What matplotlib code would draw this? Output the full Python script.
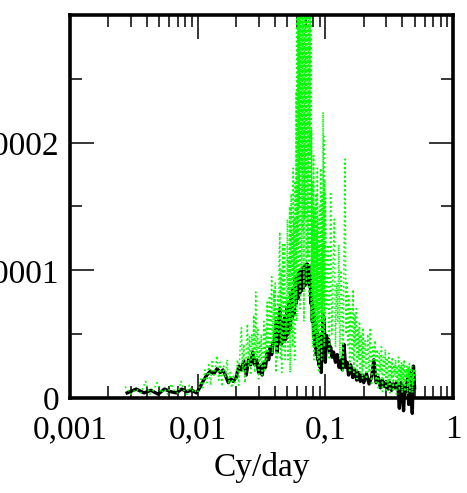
import matplotlib

matplotlib.use("Agg")

import matplotlib.pyplot as plt
from matplotlib.ticker import FixedLocator, LogLocator, MultipleLocator, NullFormatter

# power values are given in units of 1e-5
SCALE = 1e-5

# raw spectrum (green dotted)
raw_freq = [
    0.0027, 0.0030, 0.0033, 0.0036, 0.0039, 0.0042, 0.0045, 0.0048, 0.0052, 0.0055, 0.0058,
    0.0062, 0.0066, 0.0070, 0.0074, 0.0078, 0.0082, 0.0086, 0.0090, 0.0094, 0.0098,
    0.0102, 0.0106, 0.0110, 0.0114, 0.0118, 0.0122, 0.0126, 0.0130, 0.0134, 0.0138, 0.0142,
    0.0146, 0.0150, 0.0155, 0.0160, 0.0165, 0.0170, 0.0175, 0.0180, 0.0185, 0.0190, 0.0195,
    0.0200, 0.0205, 0.0210, 0.0215, 0.0220, 0.0225, 0.0230, 0.0235, 0.0240, 0.0245,
    0.0250, 0.0255, 0.0260, 0.0265, 0.0270, 0.0275, 0.0280, 0.0285, 0.0290, 0.0295,
    0.0300, 0.0305, 0.0310, 0.0315, 0.0320, 0.0325, 0.0330, 0.0335, 0.0340, 0.0345,
    0.0350, 0.0355, 0.0360, 0.0365, 0.0370, 0.0375, 0.0380, 0.0385, 0.0390, 0.0395,
    0.0400, 0.0405, 0.0410, 0.0415, 0.0420, 0.0425, 0.0430, 0.0435, 0.0440, 0.0445,
    0.0450, 0.0455, 0.0460, 0.0465, 0.0470, 0.0475, 0.0480, 0.0485, 0.0490, 0.0495,
    0.0500, 0.0505, 0.0510, 0.0515, 0.0520, 0.0525, 0.0530, 0.0535, 0.0540, 0.0545,
    0.0550, 0.0555, 0.0560, 0.0565, 0.0570, 0.0575, 0.0580, 0.0585, 0.0590, 0.0595,
    0.0600, 0.0605, 0.0610, 0.0615, 0.0620, 0.0625, 0.0630, 0.0635, 0.0640, 0.0645,
    0.0650, 0.0655, 0.0660, 0.0665, 0.0670, 0.0675, 0.0680, 0.0685, 0.0690, 0.0695,
    0.0700, 0.0705, 0.0710, 0.0715, 0.0720, 0.0725, 0.0730, 0.0735, 0.0740, 0.0745,
    0.0750, 0.0755, 0.0760, 0.0765, 0.0770, 0.0775, 0.0780, 0.0785, 0.0790, 0.0795,
    0.0800, 0.0805, 0.0810, 0.0815, 0.0820, 0.0825, 0.0830, 0.0835, 0.0840, 0.0845,
    0.0850, 0.0855, 0.0860, 0.0865, 0.0870, 0.0875, 0.0880, 0.0885, 0.0890, 0.0895,
    0.0900, 0.0905, 0.0910, 0.0915, 0.0920, 0.0925, 0.0930, 0.0935, 0.0940, 0.0945,
    0.0950, 0.0955, 0.0960, 0.0965, 0.0970, 0.0975, 0.0980, 0.0985, 0.0990, 0.0995,
    0.1000, 0.1025, 0.1050, 0.1075, 0.1100, 0.1125, 0.1150, 0.1175, 0.1200, 0.1225,
    0.1250, 0.1275, 0.1300, 0.1325, 0.1350, 0.1375, 0.1400, 0.1425, 0.1450, 0.1475,
    0.1500, 0.1525, 0.1550, 0.1575, 0.1600, 0.1625, 0.1650, 0.1675, 0.1700, 0.1725,
    0.1750, 0.1775, 0.1800, 0.1825, 0.1850, 0.1875, 0.1900, 0.1925, 0.1950, 0.1975,
    0.200, 0.205, 0.210, 0.215, 0.220, 0.225, 0.230, 0.235, 0.240, 0.245,
    0.250, 0.255, 0.260, 0.265, 0.270, 0.275, 0.280, 0.285, 0.290, 0.295,
    0.300, 0.305, 0.310, 0.315, 0.320, 0.325, 0.330, 0.335, 0.340, 0.345,
    0.350, 0.355, 0.360, 0.365, 0.370, 0.375, 0.380, 0.385, 0.390, 0.395,
    0.400, 0.405, 0.410, 0.415, 0.420, 0.425, 0.430, 0.435, 0.440, 0.445,
    0.450, 0.455, 0.460, 0.465, 0.470, 0.475, 0.480, 0.485, 0.490, 0.495,
    0.500,
]
raw_power = [
    0.9, 0.3, 0.7, 0.4, 1.3, 0.3, 0.6, 1.2, 0.4, 0.7, 0.3,
    1.1, 0.5, 0.4, 1.3, 0.6, 0.3, 1.0, 0.5, 0.7, 0.4,
    0.6, 1.5, 0.8, 2.2, 1.2, 2.6, 1.0, 3.0, 1.8, 2.4, 3.3,
    1.4, 2.8, 0.9, 2.5, 1.6, 3.0, 1.1, 2.0, 0.8, 1.8, 1.2,
    1.5, 3.0, 1.0, 4.0, 5.5, 2.0, 4.2, 1.2, 3.6, 5.8,
    2.5, 4.8, 1.8, 5.0, 3.0, 6.5, 2.0, 8.3, 3.0, 5.5,
    1.5, 4.5, 2.5, 5.0, 1.8, 3.0, 6.0, 2.2, 5.5, 3.0,
    7.5, 3.5, 6.0, 8.0, 4.0, 7.0, 9.5, 3.5, 6.0, 8.5,
    4, 9, 2, 7, 3, 8, 5, 11, 13, 3,
    10, 2, 6, 12, 4, 9, 12, 3, 8, 5,
    9, 14, 3, 11, 6, 15, 2, 10, 16, 5,
    13, 4, 18, 7, 14, 3, 17, 8, 24, 6,
    30, 12, 40, 9, 35, 15, 40, 7, 31, 18,
    38, 10, 26, 40, 13, 34, 6, 29, 40, 14,
    22, 36, 9, 40, 17, 31, 11, 27, 40, 8,
    35, 19, 40, 12, 33, 6, 21, 10, 17, 4,
    14, 8, 19, 3, 12, 15, 5, 11, 7, 16,
    4, 13, 9, 18, 3, 10, 14, 6, 12, 2,
    15, 7, 11, 4, 18, 9, 13, 3, 16, 6,
    12, 5, 22.4, 8, 14, 20.5, 4, 11, 17, 6,
    16, 7, 12, 3, 16, 5, 10, 14, 4, 9,
    6, 12, 3, 10, 8, 2, 11, 18.7, 5, 9,
    4, 8, 2, 7, 6, 3, 8.5, 2, 6.5, 4,
    7, 1.5, 5.5, 3, 6, 2, 5, 4.5, 1.5, 5.5,
    2.5, 4.5, 1.5, 5, 2, 5.5, 1, 4, 3, 4.5,
    1.2, 3.8, 0.8, 3.5, 2, 4, 0.5, 3.2, 1.8, 3.8,
    0.6, 3, 1, 3.5, 0.4, 2.8, 1.5, 3.2, 0.5, 2.6,
    1.8, 3, 0.3, 2.5, 1, 3.2, 0.6, 2.4, 1.4, 2.8,
    0.4, 2.6, 1.2, 3, 0.5, 2.2, 1.6, 2.5, 0.3, 2.4,
    0.9, 2.7, 0.5, 2.2, 1.3, 2.5, 0.4, 2.0, 1.0, 2.3,
    1.2,
]

# smoothed spectrum (black)
smooth_freq = [
    0.0028, 0.0033, 0.0038, 0.0043, 0.0049, 0.0055, 0.0061, 0.0068, 0.0075, 0.0082, 0.0090, 0.0098,
    0.0105, 0.0110, 0.0118, 0.0126, 0.0134, 0.0142, 0.0150, 0.0158, 0.0166, 0.0174, 0.0182, 0.0190,
    0.020, 0.021, 0.022, 0.023, 0.024, 0.025, 0.026, 0.027, 0.028, 0.029,
    0.030, 0.031, 0.032, 0.033, 0.034, 0.035, 0.036, 0.037, 0.038, 0.039,
    0.040, 0.041, 0.042, 0.043, 0.044, 0.045, 0.046, 0.047, 0.048, 0.049,
    0.050, 0.051, 0.052, 0.053, 0.054, 0.055, 0.056, 0.057, 0.058, 0.059,
    0.060, 0.061, 0.062, 0.063, 0.064, 0.065, 0.066, 0.067, 0.068, 0.069,
    0.070, 0.071, 0.072, 0.073, 0.074, 0.075, 0.076, 0.077, 0.078, 0.079,
    0.080, 0.081, 0.082, 0.083, 0.084, 0.085, 0.086, 0.087, 0.088, 0.089,
    0.090, 0.091, 0.092, 0.093, 0.094, 0.095, 0.096, 0.097, 0.098, 0.099,
    0.100, 0.102, 0.104, 0.106, 0.108, 0.110, 0.113, 0.116, 0.120, 0.124,
    0.128, 0.132, 0.136, 0.140, 0.144, 0.148, 0.152, 0.158, 0.164, 0.170,
    0.176, 0.182, 0.188, 0.194, 0.200, 0.210, 0.220, 0.230, 0.240, 0.250,
    0.260, 0.270, 0.280, 0.290, 0.300, 0.310, 0.320, 0.330, 0.340, 0.350,
    0.360, 0.370, 0.380, 0.390, 0.400, 0.410, 0.420, 0.430, 0.440, 0.450,
    0.460, 0.470, 0.480, 0.490, 0.500,
]
smooth_power = [
    0.4, 0.7, 0.4, 0.6, 0.3, 0.7, 0.5, 0.4, 0.7, 0.5, 0.6, 0.4,
    0.9, 1.3, 1.8, 2.1, 1.9, 2.3, 2.0, 2.2, 1.7, 1.2, 1.5, 1.3,
    1.6, 2.5, 2.2, 2.9, 1.8, 3.0, 2.6, 3.6, 2.6, 3.0,
    2.0, 2.6, 1.8, 2.8, 2.4, 3.6, 3.0, 4.0, 3.4, 4.4,
    4.3, 6.0, 3.6, 5.6, 7.0, 4.2, 6.0, 4.4, 6.4, 4.6,
    7.0, 5.0, 7.4, 5.4, 8.2, 6.2, 8.6, 6.6, 9.4, 7.4,
    9.6, 7.8, 9.8, 8.2, 10.0, 8.4, 10.2, 8.6, 10.3, 8.8,
    10.4, 9.0, 10.5, 9.2, 10.4, 8.8, 9.6, 7.4, 8.4, 6.0,
    7.2, 4.8, 6.6, 4.0, 5.8, 3.4, 5.2, 3.0, 4.8, 2.6,
    4.4, 2.4, 4.6, 2.0, 5.0, 4.2, 6.6, 4.4, 6.2, 4.0,
    2.8, 4.9, 4.2, 4.6, 3.6, 4.0, 3.2, 3.6, 2.8, 3.4,
    2.4, 3.0, 2.2, 4.2, 2.4, 2.8, 1.8, 2.6, 1.6, 2.2,
    1.4, 2.0, 1.3, 1.8, 1.2, 1.9, 1.1, 1.6, 3.0, 1.2,
    1.6, 0.8, 1.4, 0.9, 1.3, 0.7, 1.2, 0.6, 1.1, 0.8,
    1.2, 0.9, -0.8, 1.2, 0.6, -1.0, 1.0, 0.5, 1.5, -0.5,
    2.0, 0.5, -1.2, 2.5, 0.8,
]

x_ticks = [0.001, 0.01, 0.1, 1]
x_tick_labels = ["0,001", "0,01", "0,1", "1"]
y_ticks = [0, 0.0001, 0.0002]
y_tick_labels = ["0", "0,0001", "0,0002"]

plt.rcParams["font.family"] = ["Liberation Serif", "DejaVu Serif"]

fig = plt.figure(figsize=(4.67, 4.93), dpi=100)
ax = fig.add_axes([0.150, 0.1927, 0.820, 0.7769])

# smoothed curve first, raw spectrum dotted over it
ax.plot(smooth_freq, [p * SCALE for p in smooth_power], color="black", linewidth=2.4, clip_on=False, zorder=2)
ax.plot(raw_freq, [p * SCALE for p in raw_power], color="#00ff00", linestyle=":", linewidth=1.2, zorder=3)

ax.set_xscale("log")
ax.set_xlim(0.001, 1)
ax.set_ylim(0, 0.0003)

ax.xaxis.set_major_locator(FixedLocator(x_ticks))
ax.set_xticklabels(x_tick_labels)
ax.xaxis.set_minor_locator(LogLocator(base=10, subs=range(2, 10), numticks=20))
ax.xaxis.set_minor_formatter(NullFormatter())
ax.yaxis.set_major_locator(FixedLocator(y_ticks))
ax.set_yticklabels(y_tick_labels)
ax.yaxis.set_minor_locator(MultipleLocator(0.00005))

ax.tick_params(which="both", direction="in", top=True, right=True, labelsize=24, colors="black")
ax.tick_params(which="major", length=17, width=1.1)
ax.tick_params(which="minor", length=8.5, width=1.1)
ax.tick_params(axis="x", which="major", pad=12)
ax.tick_params(axis="y", which="major", pad=8)
for spine in ax.spines.values():
    spine.set_linewidth(2.6)
    spine.set_zorder(4)

ax.set_xlabel("Cy/day", fontsize=24, labelpad=5)

fig.savefig("out.png", dpi=100)
